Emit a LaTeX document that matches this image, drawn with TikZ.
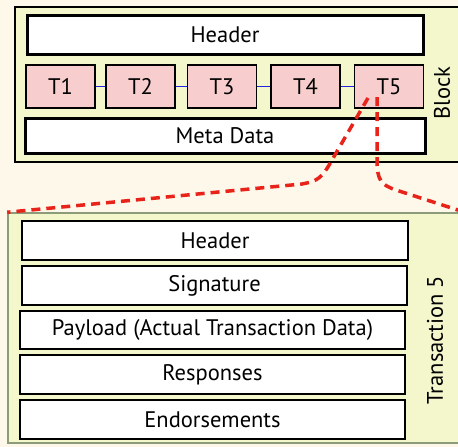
\documentclass[tikz,border=0pt]{standalone}
\usepackage{fontspec}
\setmainfont{PT Sans}
\definecolor{cream}{HTML}{FEF8EA}
\definecolor{paleblock}{HTML}{F3F7CB}
\definecolor{txpink}{HTML}{F7CDCD}
\definecolor{olivegrey}{HTML}{8C9C78}
\definecolor{zoomred}{HTML}{E8231A}
\definecolor{linkblue}{HTML}{2424E0}

\begin{document}
\begin{tikzpicture}[x=1pt,y=-1pt,
  txt/.style={font=\fontsize{22.5}{26}\selectfont},
  field/.style={txt,draw,fill=white,line width=2pt,inner sep=0pt,minimum width=385pt,minimum height=39pt},
  bigfield/.style={field,line width=3pt},
  txbox/.style={txt,draw,fill=txpink,line width=1.2pt,inner sep=0pt,minimum width=69pt,minimum height=43pt},
  zoomline/.style={draw=zoomred,line width=3.5pt,dash pattern=on 9pt off 6pt}]
\useasboundingbox (0,0) rectangle (458,447);
\clip (0,0) rectangle (458,447);
\fill[cream] (0,0) rectangle (458,447);
% block
\node[draw,fill=paleblock,line width=1.5pt,minimum width=450pt,minimum height=155pt,inner sep=0pt](block) at (240,84.5){};
\node[bigfield,minimum width=396pt](bheader) at (225,34.5){Header};
\node[txbox](t1) at (60.5,86.5){T1};
\node[txbox](t2) at (140.5,86.5){T2};
\node[txbox](t3) at (222,86.5){T3};
\node[txbox](t4) at (305.5,86.5){T4};
\node[txbox](t5) at (389,86.5){T5};
\draw[linkblue,line width=1.5pt] (t1) -- (t2);
\draw[linkblue,line width=1.5pt] (t2) -- (t3);
\draw[linkblue,line width=1.5pt] (t3) -- (t4);
\draw[linkblue,line width=1.5pt] (t4) -- (t5);
\node[bigfield,minimum width=400pt,minimum height=35pt](meta) at (225,135.5){Meta Data};
\node[txt,rotate=90](blocklabel) at (442,93){Block};
% transaction 5
\node[draw=olivegrey,fill=paleblock,line width=1.5pt,minimum width=456pt,minimum height=230pt,inner sep=0pt](trans) at (236,328){};
\node[field,minimum width=386pt](theader) at (215,240.5){Header};
\node[field](sig) at (214.5,285.5){Signature};
\node[field,minimum height=38pt](payload) at (212.5,330){Payload (Actual Transaction Data)};
\node[field](resp) at (212.5,374.5){Responses};
\node[field](endo) at (212.5,419.5){Endorsements};
\node[txt,rotate=90](translabel) at (435,340){Transaction 5};
% zoom lines
\coordinate (zoomL) at (368,98);
\coordinate (zoomR) at (377,97);
\draw[zoomline] (zoomL) -- (332,160) .. controls (322,178) and (318,181) .. (302,184) -- (trans.north west);
\draw[zoomline] (zoomR) -- (377,160) .. controls (377,180) and (381,185) .. (396,190) -- (trans.north east);
\end{tikzpicture}
\end{document}
